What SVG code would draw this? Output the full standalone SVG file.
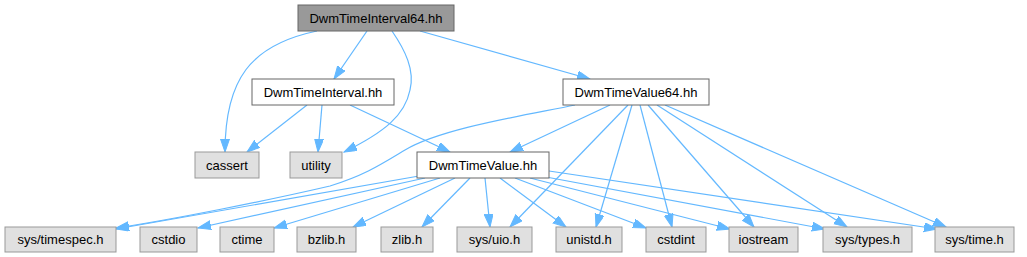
<svg xmlns="http://www.w3.org/2000/svg" width="1027" height="257" viewBox="0 0 1027 257">
<style>
text { font-family: "Liberation Sans", Arial, sans-serif; font-size: 13px; fill: #000; text-anchor: middle; }
.root { fill: #999999; stroke: #666666; stroke-width: 1; }
.node { fill: #ffffff; stroke: #666666; stroke-width: 1; }
.ext { fill: #e0e0e0; stroke: #999999; stroke-width: 1; }
.edge { fill: none; stroke: #63b8ff; stroke-width: 1.2; marker-end: url(#arrow); }
</style>
<defs>
<marker id="arrow" markerUnits="userSpaceOnUse" markerWidth="14" markerHeight="10" refX="13" refY="4.5" orient="auto">
<path d="M0,0 L13,4.5 L0,9 Z" fill="#63b8ff" stroke="#63b8ff" stroke-width="1"/>
</marker>
</defs>
<rect width="1027" height="257" fill="#ffffff"/>
<g id="connectors">
<path class="edge" d="M317,31 C250,45 225,80 225,152"/>
<path class="edge" d="M367,31 L334,79"/>
<path class="edge" d="M392,31 C405,50 415,70 410,90 C405,115 385,132 344,152"/>
<path class="edge" d="M420,31 L590,79"/>
<path class="edge" d="M307,105 L247,152"/>
<path class="edge" d="M322,105 L318,152"/>
<path class="edge" d="M350,105 L450,152"/>
<path class="edge" d="M610,105 L510,152"/>
<path class="edge" d="M575,105 C527,115 442,128 405,150 C380,165 365,175 330,186 C270,200 170,220 116,228"/>
<path class="edge" d="M628,105 L510,227"/>
<path class="edge" d="M632,105 L596,227"/>
<path class="edge" d="M640,105 L672,227"/>
<path class="edge" d="M648,105 L754,227"/>
<path class="edge" d="M657,105 L847,227"/>
<path class="edge" d="M665,105 L946,227"/>
<path class="edge" d="M419,176 L116,229"/>
<path class="edge" d="M425,178 L198,228"/>
<path class="edge" d="M440,178 L274,228"/>
<path class="edge" d="M455,178 L353,227"/>
<path class="edge" d="M470,178 L422,227"/>
<path class="edge" d="M485,178 L490,227"/>
<path class="edge" d="M500,178 L566,227"/>
<path class="edge" d="M515,178 L646,228"/>
<path class="edge" d="M530,178 L730,229"/>
<path class="edge" d="M546,177 L825,229"/>
<path class="edge" d="M549,171 L937,229"/>
</g>
<g id="DwmTimeInterval64.hh"><rect class="root" x="298" y="5" width="156" height="26"/><text x="376" y="22.5">DwmTimeInterval64.hh</text></g>
<g id="DwmTimeInterval.hh"><rect class="node" x="252" y="79" width="142" height="26"/><text x="323" y="96.5">DwmTimeInterval.hh</text></g>
<g id="DwmTimeValue64.hh"><rect class="node" x="563" y="79" width="146" height="26"/><text x="636" y="96.5">DwmTimeValue64.hh</text></g>
<g id="cassert"><rect class="ext" x="195" y="152" width="64" height="26"/><text x="227" y="169.5">cassert</text></g>
<g id="utility"><rect class="ext" x="290" y="152" width="52" height="26"/><text x="316" y="169.5">utility</text></g>
<g id="DwmTimeValue.hh"><rect class="node" x="417" y="152" width="132" height="26"/><text x="483" y="169.5">DwmTimeValue.hh</text></g>
<g id="sys_timespec.h"><rect class="ext" x="5" y="227" width="111" height="25"/><text x="60.5" y="244">sys/timespec.h</text></g>
<g id="cstdio"><rect class="ext" x="140" y="227" width="57" height="25"/><text x="168.5" y="244">cstdio</text></g>
<g id="ctime"><rect class="ext" x="220" y="227" width="54" height="25"/><text x="247" y="244">ctime</text></g>
<g id="bzlib.h"><rect class="ext" x="297" y="227" width="59" height="25"/><text x="326.5" y="244">bzlib.h</text></g>
<g id="zlib.h"><rect class="ext" x="381" y="227" width="52" height="25"/><text x="407" y="244">zlib.h</text></g>
<g id="sys_uio.h"><rect class="ext" x="457" y="227" width="75" height="25"/><text x="494.5" y="244">sys/uio.h</text></g>
<g id="unistd.h"><rect class="ext" x="556" y="227" width="66" height="25"/><text x="589" y="244">unistd.h</text></g>
<g id="cstdint"><rect class="ext" x="646" y="227" width="60" height="25"/><text x="676" y="244">cstdint</text></g>
<g id="iostream"><rect class="ext" x="729" y="227" width="69" height="25"/><text x="763.5" y="244">iostream</text></g>
<g id="sys_types.h"><rect class="ext" x="823" y="227" width="89" height="25"/><text x="867.5" y="244">sys/types.h</text></g>
<g id="sys_time.h"><rect class="ext" x="935" y="227" width="79" height="25"/><text x="974.5" y="244">sys/time.h</text></g>
</svg>
